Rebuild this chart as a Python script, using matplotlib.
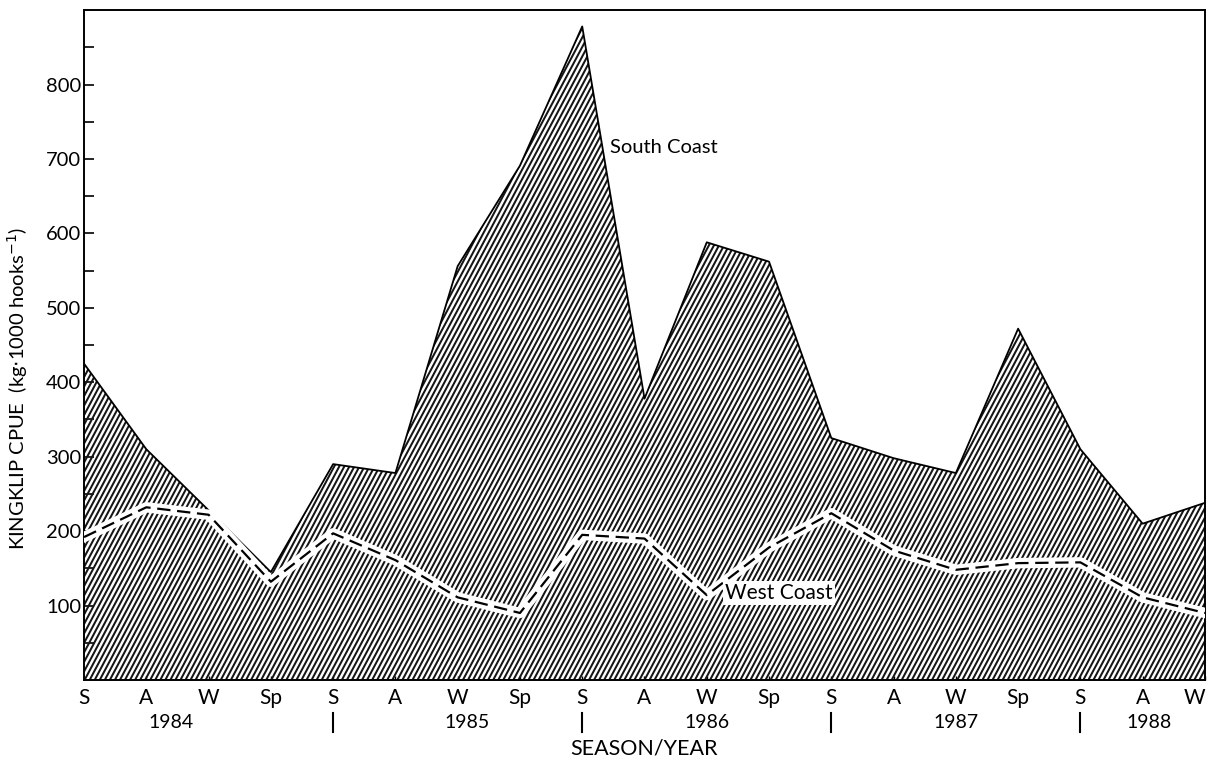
import numpy as np
import matplotlib.pyplot as plt
from matplotlib.collections import LineCollection

plt.rcParams['font.family'] = ['Lato', 'DejaVu Sans']

# Kingklip CPUE by season, summer 1984 to winter 1988
seasons = ['S', 'A', 'W', 'Sp'] * 4 + ['S', 'A', 'W']
south_coast = [425, 310, 228, 145, 290, 278, 556, 691, 878, 378,
               588, 562, 325, 298, 278, 472, 310, 210, 238]
west_coast = [192, 232, 222, 132, 197, 161, 111, 90, 195, 190,
              114, 178, 224, 174, 148, 157, 158, 111, 90]
years = ['1984', '1985', '1986', '1987', '1988']
year_pos = [1.4, 6.15, 10.0, 14.0, 17.1]
year_breaks = [4, 8, 12, 16]

x = np.arange(len(seasons))

fig = plt.figure(figsize=(12.11, 7.63), dpi=100)
ax = fig.add_axes([0.0694, 0.1088, 0.9256, 0.878])

# area under the south coast series, outlined, with custom diagonal shading
poly = ax.fill_between(x, 0, south_coast, facecolor='white', edgecolor='none', zorder=1)
ax.plot(x, south_coast, color='black', lw=1.3, zorder=3)

clip = poly.get_paths()[0]
slope = 3.15  # steep hatch in axes units
starts = np.arange(-0.4, 1.0, 0.0045)
segs = [[(s, 0), (s + 1 / slope, 1)] for s in starts]
hatch = LineCollection(segs, colors='#151515', linewidths=1.45,
                       transform=ax.transAxes, zorder=2)
hatch.set_clip_path(clip, transform=ax.transData)
ax.add_collection(hatch)

# west coast series: dashed black over a white band
ax.plot(x, west_coast, color='white', lw=7.5, solid_joinstyle='round', zorder=4)
ax.plot(x, west_coast, color='black', lw=1.6, dashes=(6, 3), zorder=5)

ax.text(8.44, 715, 'South Coast', fontsize=14.5, va='center', ha='left', zorder=6)
ax.text(10.3, 117, 'West Coast', fontsize=15, va='center', ha='left', zorder=6,
        bbox=dict(facecolor='white', edgecolor='none', pad=1.5))

ax.set_xlim(0, 18)
ax.set_ylim(0, 900)

ax.set_yticks(range(100, 900, 100))
ax.set_yticks(range(50, 900, 100), minor=True)
ax.tick_params(axis='y', which='both', direction='in', length=7, width=1.2,
               labelsize=14.5, pad=2)
ax.set_xticks(x)
ax.set_xticklabels(seasons)
ax.tick_params(axis='x', direction='in', length=3, width=1, labelsize=15, pad=6)
ax.get_xticklabels()[-1].set_horizontalalignment('right')

for side in ax.spines.values():
    side.set_linewidth(1.4)

# year labels and year separators below the season labels
xt = ax.get_xaxis_transform()
for yr, pos in zip(years, year_pos):
    ax.text(pos, -0.063, yr, transform=xt, fontsize=14, ha='center', va='center')
for b in year_breaks:
    ax.plot([b, b], [-0.050, -0.078], transform=xt,
            color='black', lw=1.5, clip_on=False)

ax.text(9.0, -0.102, 'SEASON/YEAR', transform=xt,
        fontsize=15.5, ha='center', va='center')
ax.set_ylabel('KINGKLIP CPUE  (kg$\\cdot$1000 hooks$^{-1}$)', fontsize=14.5)
ax.yaxis.set_label_coords(-0.048, 0.435)

fig.savefig('out.png', dpi=100)
